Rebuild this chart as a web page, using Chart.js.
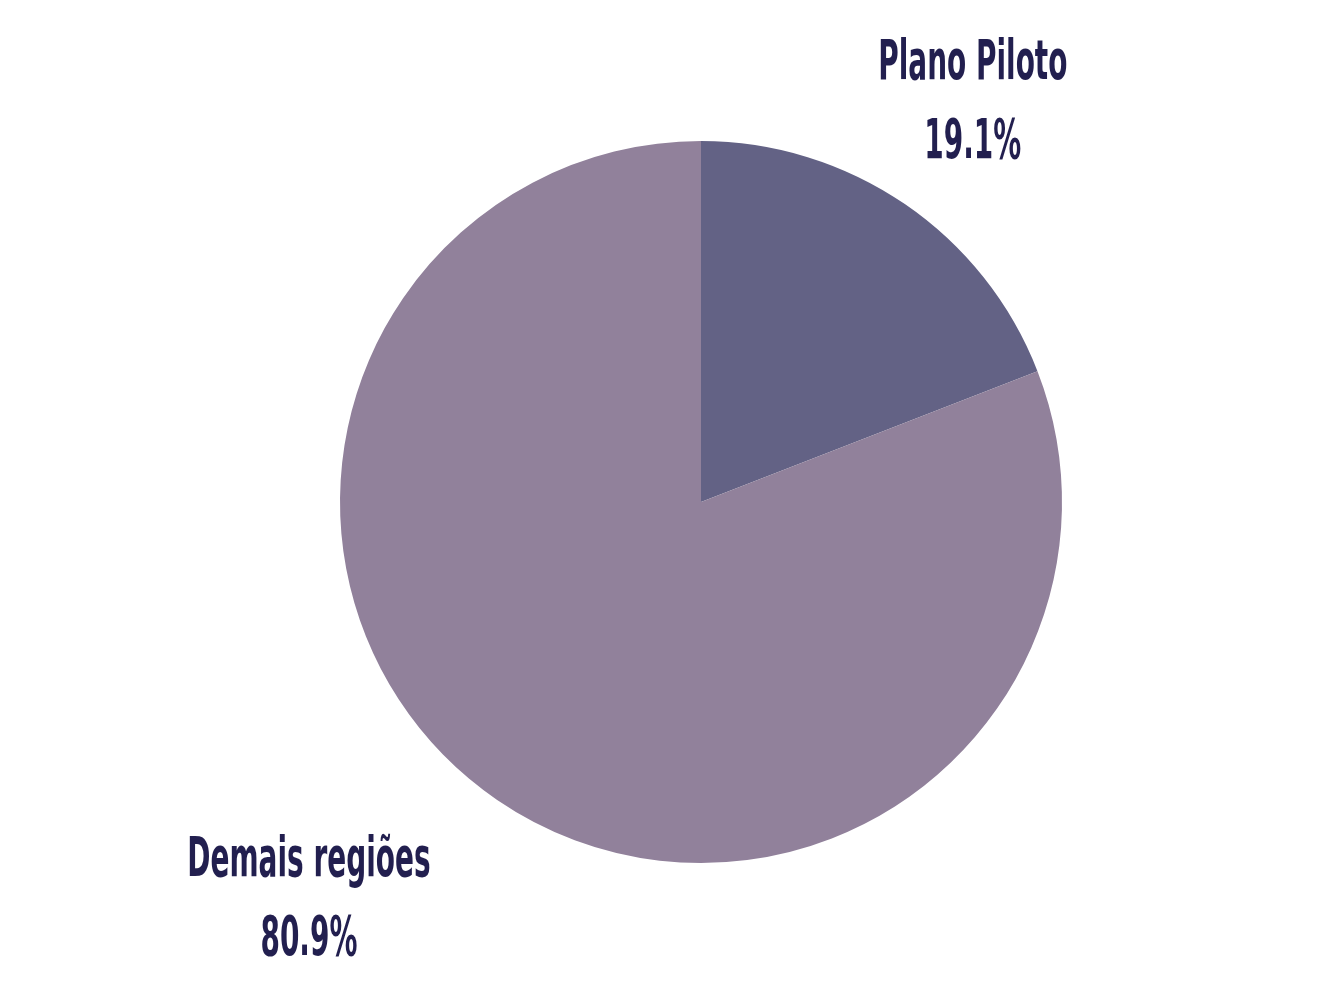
<!DOCTYPE html>
<html>
<head>
<meta charset="utf-8">
<script src="https://cdn.jsdelivr.net/npm/chart.js@4.4.0/dist/chart.umd.min.js"></script>
<style>
    html, body { margin: 0; padding: 0; background: #ffffff; }
    #wrap { width: 1321px; height: 1006px; position: relative; }
</style>
</head>
<body>
<div id="wrap"><canvas id="pieChart"></canvas></div>
<script>
// Chart data
const categories = ['Plano Piloto', 'Demais regiões'];
const shares = [19.1, 80.9];
const sliceColors = ['#636285', '#91819b'];

// Label anchors, relative to pie centre in units of radius
const labelAnchors = [
    { dx: 0.753, dy: -1.105 },
    { dx: -1.086, dy: 1.103 }
];

// Draws the category name and percentage outside each slice
const outsideLabels = {
    id: 'outsideLabels',
    afterDatasetsDraw(chart) {
        const ctx = chart.ctx;
        const meta = chart.getDatasetMeta(0);
        ctx.save();
        ctx.fillStyle = '#221f4f';
        ctx.textAlign = 'center';
        ctx.textBaseline = 'middle';
        ctx.font = 'bold 56px "DejaVu Sans Condensed", "DejaVu Sans", sans-serif';
        meta.data.forEach((arc, i) => {
            const r = arc.outerRadius;
            const x = arc.x + labelAnchors[i].dx * r;
            const y = arc.y + labelAnchors[i].dy * r;
            const lines = [categories[i], shares[i].toFixed(1) + '%'];
            lines.forEach((text, j) => {
                ctx.save();
                ctx.translate(x, y - 39 + j * 79);
                ctx.scale(0.555, 1);
                ctx.fillText(text, 0, 0);
                ctx.restore();
            });
        });
        ctx.restore();
    }
};

function initChart() {
    const ctx = document.getElementById('pieChart');
    new Chart(ctx, {
        type: 'pie',
        data: {
            labels: categories,
            datasets: [{
                data: shares,
                backgroundColor: sliceColors,
                borderWidth: 0
            }]
        },
        options: {
            responsive: true,
            maintainAspectRatio: false,
            animation: false,
            layout: {
                padding: { left: 340, right: 259, top: 141, bottom: 143 }
            },
            plugins: {
                legend: { display: false },
                tooltip: { enabled: false }
            }
        },
        plugins: [outsideLabels]
    });
}

document.addEventListener('DOMContentLoaded', initChart);
</script>
</body>
</html>
